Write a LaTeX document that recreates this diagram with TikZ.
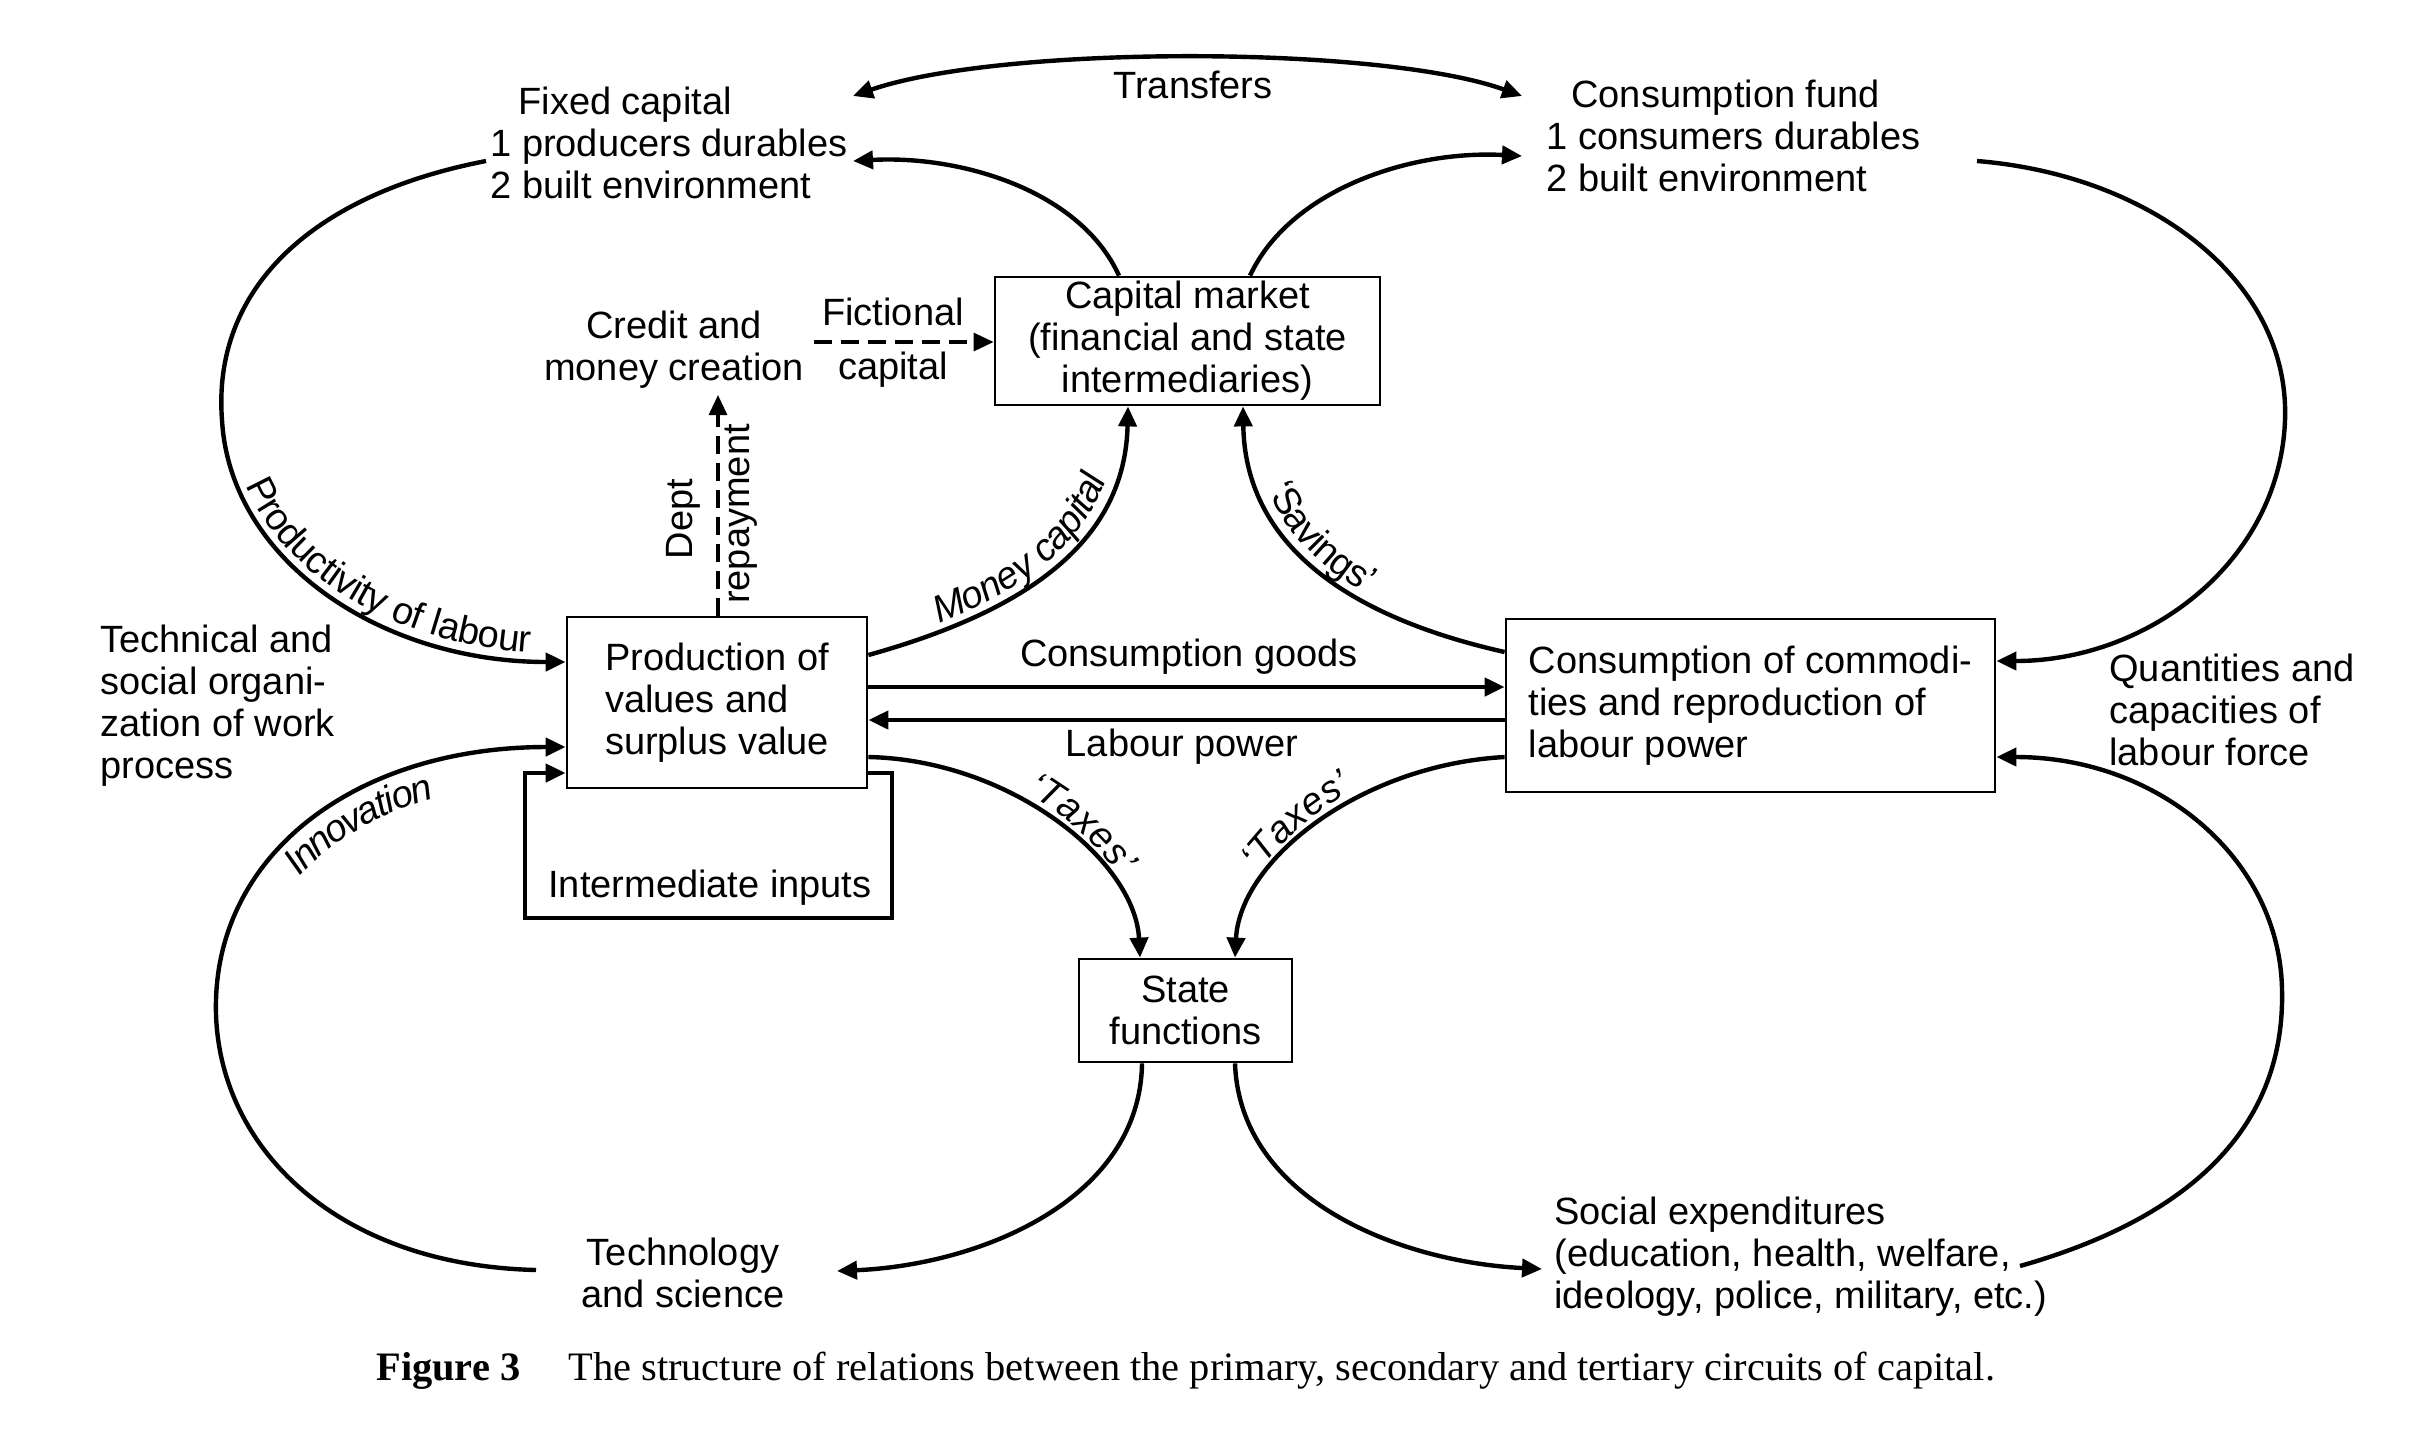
\documentclass[tikz,border=0pt]{standalone}
\usepackage{fontspec}
\setmainfont{Liberation Sans}
\newfontfamily\capfont{Liberation Serif}
\usetikzlibrary{arrows.meta,decorations.text,calc}
\begin{document}
\begin{tikzpicture}[x=0.5pt,y=0.5pt,
  >={Triangle[length=10pt,width=9pt]},
  every node/.style={font=\fontsize{19}{21}\selectfont, inner sep=0pt},
  box/.style={draw, line width=1.4pt, align=center},
  conn/.style={line width=2.2pt, ->},
  dconn/.style={line width=1.6pt, dash pattern=on 9pt off 4.5pt, ->},
  curvelbl/.style={decorate, decoration={text along path, raise=4pt, text align=center, #1}},
]
\fill[white] (0,0) rectangle (2418,-1431);
\useasboundingbox (0,0) rectangle (2418,-1431);

% ---------- boxes ----------
\node[box, minimum width=192.5pt, minimum height=64pt] (cm) at (1187.5,-341)
  {Capital market\\(financial and state\\intermediaries)};
\node[box, align=left, minimum width=150pt, minimum height=85.5pt] (prod) at (717,-702.5)
  {Production of\\values and\\surplus value};
\node[box, align=left, minimum width=244.5pt, minimum height=86.5pt] (cons) at (1750.5,-705.5)
  {Consumption of commodi-\\ties and reproduction of\\labour power};
\node[box, minimum width=106.5pt, minimum height=51.5pt] (state) at (1185.5,-1010.5)
  {State\\functions};

% ---------- free texts ----------
\node[align=left, anchor=west] (fixed) at (490,-143)
  {\hspace*{14pt}Fixed capital\\1 producers durables\\2 built environment};
\node[align=left, anchor=west] (cfund) at (1546,-136)
  {\hspace*{12.5pt}Consumption fund\\1 consumers durables\\2 built environment};
\node (transfers) at (1193,-85) {Transfers};
\node[align=center] (credit) at (674,-350) {Credit and\\money creation};
\node (fict) at (893,-312) {Fictional};
\node (fcap) at (893,-370) {capital};
\node[rotate=90] (dept) at (683,-519) {Dept};
\node[rotate=90] (repay) at (741,-514) {repayment};
\node[align=left, anchor=west] (tech) at (100,-706)
  {Technical and\\social organi-\\zation of work\\process};
\node[align=left, anchor=west] (quant) at (2109,-710)
  {Quantities and\\capacities of\\labour force};
\node[align=center] (techsci) at (683,-1273) {Technology\\and science};
\node[align=left, anchor=west] (social) at (1554,-1257)
  {Social expenditures\\(education, health, welfare,\\ideology, police, military, etc.)};
\node (cgoods) at (1189,-657) {Consumption goods};
\node (lpower) at (1182,-747) {Labour power};
\node (inter) at (710,-888) {Intermediate inputs};
\node[anchor=west, font=\capfont\fontsize{20.2}{22}\selectfont] (caption) at (376,-1371)
  {\textbf{Figure 3}\hspace{24pt}The structure of relations between the primary, secondary and tertiary circuits of capital.};

% ---------- free connector ends ----------
\coordinate (fxA) at (853,-96);
\coordinate (cfA) at (1522,-96);
\coordinate (fxB) at (853,-161);
\coordinate (cfB) at (1522,-156);
\coordinate (fxC) at (486,-161);
\coordinate (cfC) at (1977,-161);
\coordinate (tsA) at (536,-1270);
\coordinate (tsB) at (837,-1271);
\coordinate (seA) at (1542,-1269);
\coordinate (seB) at (2020,-1266);
\coordinate (crA) at (718,-395);
\coordinate (crB) at (814,-342);

% ---------- connectors ----------
\draw[conn, <->] (fxA) .. controls (1000,-45) and (1380,-45) .. (cfA);
\draw[conn] (cm.north -| 1119,0) .. controls (1080,-190) and (960,-155) .. (fxB);
\draw[conn] (cm.north -| 1250,0) .. controls (1290,-190) and (1410,-150) .. (cfB);
\draw[conn] (fxC) .. controls (310,-195) and (212,-290) .. (222,-420)
  .. controls (230,-560) and (380,-662) .. (prod.west |- 0,-662);
\draw[conn] (cfC) .. controls (2150,-175) and (2290,-280) .. (2285,-420)
  .. controls (2280,-560) and (2150,-661) .. (cons.east |- 0,-661);
\draw[conn] (tsA) .. controls (330,-1265) and (212,-1140) .. (216,-1000)
  .. controls (220,-850) and (360,-747) .. (prod.west |- 0,-747);
\draw[conn] (seB) .. controls (2200,-1215) and (2285,-1120) .. (2282,-990)
  .. controls (2280,-860) and (2160,-757) .. (cons.east |- 0,-757);
\draw[conn] (prod.east |- 0,-655) .. controls (1030,-610) and (1125,-540) .. (cm.south -| 1128,0);
\draw[conn] (cons.west |- 0,-652) .. controls (1340,-615) and (1245,-540) .. (cm.south -| 1243,0);
\draw[conn] (prod.east |- 0,-687) -- (cons.west |- 0,-687);
\draw[conn] (cons.west |- 0,-720) -- (prod.east |- 0,-720);
\draw[conn] (prod.east |- 0,-757) .. controls (1010,-760) and (1135,-860) .. (state.north -| 1140,0);
\draw[conn] (cons.west |- 0,-757) .. controls (1360,-765) and (1240,-860) .. (state.north -| 1235,0);
\draw[conn] (state.south -| 1142,0) .. controls (1140,-1200) and (980,-1265) .. (tsB);
\draw[conn] (state.south -| 1235,0) .. controls (1240,-1200) and (1400,-1262) .. (seA);
\draw[dconn] (prod.north -| crA) -- (crA);
\draw[dconn] (crB) -- (cm.west |- crB);
\draw[conn] (prod.east |- 0,-773) -| (892,-918) -| (525,-773) -- (prod.west |- 0,-773);

% ---------- curved labels ----------
\path[curvelbl={text={|\fontsize{19}{21}\selectfont|Productivity of labour}, text align={right, right indent=18pt}}]
  (fxC) .. controls (310,-195) and (212,-290) .. (222,-420)
  .. controls (230,-560) and (380,-662) .. (prod.west |- 0,-662);
\path[curvelbl={text={|\fontsize{19}{21}\selectfont\itshape|Money capital}}]
  (prod.east |- 0,-655) .. controls (1030,-610) and (1125,-540) .. (cm.south -| 1128,0);
\path[curvelbl={text={|\fontsize{19}{21}\selectfont|‘Savings’}, text align={left, left indent=44pt}}]
  (cm.south -| 1243,0) .. controls (1245,-540) and (1340,-615) .. (cons.west |- 0,-652);
\path[curvelbl={text={|\fontsize{19}{21}\selectfont\itshape|Innovation}, text align={left, left indent=81pt}, raise=-17pt}]
  (216,-1000) .. controls (220,-850) and (360,-747) .. (prod.west |- 0,-747);
\path[curvelbl={text={|\fontsize{19}{21}\selectfont\itshape|‘Taxes’}, text align={left, left indent=81pt}}]
  (prod.east |- 0,-757) .. controls (1010,-760) and (1135,-860) .. (state.north -| 1140,0);
\path[curvelbl={text={|\fontsize{19}{21}\selectfont\itshape|‘Taxes’}, text align={left, left indent=44pt}}]
  (state.north -| 1235,0) .. controls (1240,-860) and (1360,-765) .. (cons.west |- 0,-757);
\end{tikzpicture}
\end{document}
